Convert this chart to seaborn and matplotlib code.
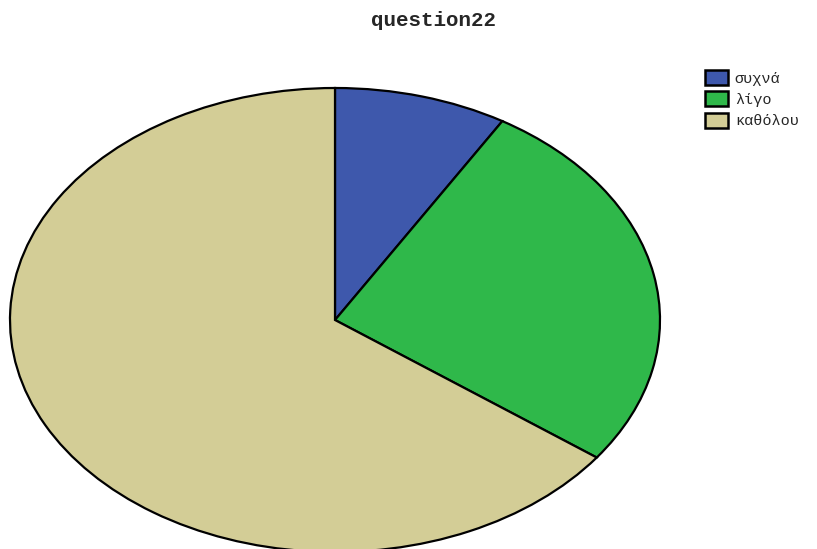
import matplotlib
matplotlib.use("Agg")
import matplotlib.pyplot as plt
import seaborn as sns
from matplotlib.patches import Patch

# Response counts for question 22
categories = ["συχνά", "λίγο", "καθόλου"]
counts = [13, 40, 98]
chart_title = "question22"

sns.set_theme(style="white")
plt.rcParams["font.family"] = ["Liberation Mono", "DejaVu Sans Mono"]

colors = ["#3e58ac", "#2fb84a", "#d3cd96"]

fig = plt.figure(figsize=(8.17, 5.49), dpi=100)
W, H = 817, 549
# axes spans the elliptical pie area
ax = fig.add_axes([10 / W, (H - 552) / H, 650 / W, 464 / H])
ax.pie(counts, colors=colors, startangle=90, counterclock=False,
       wedgeprops=dict(edgecolor="black", linewidth=1.6))
ax.set_aspect("auto")
ax.set_xlim(-1.0, 1.0)
ax.set_ylim(-1.0, 1.0)
ax.axis("off")

fig.text(433 / W, 1 - 20 / H, chart_title, ha="center", va="center",
         fontsize=15, fontweight="bold")

handles = [Patch(facecolor=c, edgecolor="black", linewidth=1.8) for c in colors]
fig.legend(handles, categories, loc="upper left",
           bbox_to_anchor=(705 / W, 1 - 70 / H), frameon=False,
           fontsize=11, handlelength=1.5, handleheight=1.15,
           handletextpad=0.45, labelspacing=0.36, borderpad=0.0,
           borderaxespad=0.0)

fig.savefig("out.png", dpi=100)
